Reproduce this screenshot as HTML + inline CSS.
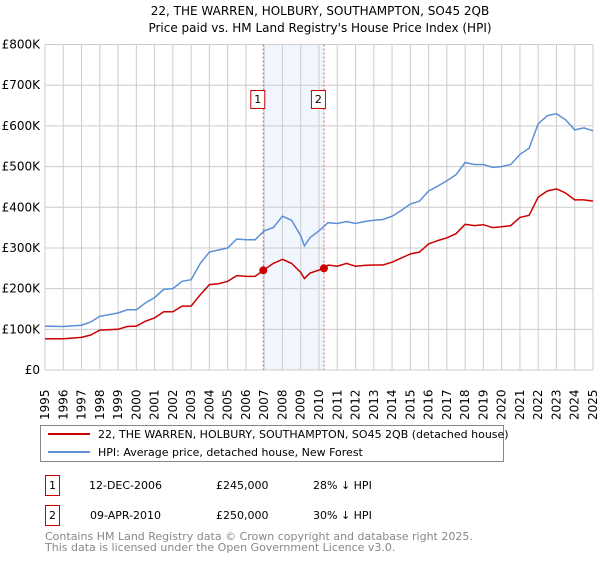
<!DOCTYPE html>
<html><head><meta charset="utf-8"><style>
body{margin:0;background:#fff;font-family:"DejaVu Sans","Liberation Sans",sans-serif;}
svg text{font-family:"DejaVu Sans","Liberation Sans",sans-serif;}
</style></head><body>
<svg id="chart" width="600" height="560" xmlns="http://www.w3.org/2000/svg">
<text x="320" y="15" text-anchor="middle" font-size="12">22, THE WARREN, HOLBURY, SOUTHAMPTON, SO45 2QB</text>
<text x="320" y="32" text-anchor="middle" font-size="12">Price paid vs. HM Land Registry's House Price Index (HPI)</text>
<g id="grid"></g><g id="marks"></g><g id="axes"></g>
<g>
<rect x="40.5" y="425.5" width="463" height="36" fill="#fff" stroke="#888"/>
<line x1="48" y1="434" x2="90" y2="434" stroke="#cc0000" stroke-width="2"/>
<text x="98" y="438" font-size="11">22, THE WARREN, HOLBURY, SOUTHAMPTON, SO45 2QB (detached house)</text>
<line x1="48" y1="452" x2="90" y2="452" stroke="#5b8fd6" stroke-width="2"/>
<text x="98" y="456" font-size="11">HPI: Average price, detached house, New Forest</text>
</g>
<g font-size="11">
<rect x="45.5" y="475.5" width="14" height="20" fill="#fff" stroke="#cc0000"/><text x="52.5" y="489" text-anchor="middle">1</text>
<text x="89" y="489">12-DEC-2006</text><text x="216" y="489">£245,000</text><text x="313" y="489">28% ↓ HPI</text>
<rect x="45.5" y="505.5" width="14" height="20" fill="#fff" stroke="#cc0000"/><text x="52.5" y="519" text-anchor="middle">2</text>
<text x="90" y="519">09-APR-2010</text><text x="216" y="519">£250,000</text><text x="313" y="519">30% ↓ HPI</text>
</g>
<text x="45" y="540" font-size="11" fill="#888">Contains HM Land Registry data © Crown copyright and database right 2025.</text>
<text x="45" y="551" font-size="11" fill="#888">This data is licensed under the Open Government Licence v3.0.</text>
</svg>
<script>
const hpiYears=[1995,1996,1997,1997.5,1998,1999,1999.5,2000,2000.5,2001,2001.5,2002,2002.5,2003,2003.5,2004,2004.5,2005,2005.5,2006,2006.5,2007,2007.5,2008,2008.5,2009,2009.2,2009.5,2010,2010.5,2011,2011.5,2012,2012.5,2013,2013.5,2014,2014.5,2015,2015.5,2016,2016.5,2017,2017.5,2018,2018.5,2019,2019.5,2020,2020.5,2021,2021.5,2022,2022.5,2023,2023.5,2024,2024.5,2025];
const hpiValues=[108,107,110,118,132,140,148,148,165,178,198,200,218,222,262,290,295,300,322,320,320,342,350,378,368,330,305,325,342,362,360,365,360,365,368,370,378,392,408,415,440,452,465,480,510,505,505,498,500,505,530,545,605,625,630,615,590,595,588];
const propYears=[1995,1996,1997,1997.5,1998,1999,1999.5,2000,2000.5,2001,2001.5,2002,2002.5,2003,2003.5,2004,2004.5,2005,2005.5,2006,2006.5,2006.95,2007.5,2008,2008.5,2009,2009.2,2009.5,2010.27,2010.5,2011,2011.5,2012,2012.5,2013,2013.5,2014,2014.5,2015,2015.5,2016,2016.5,2017,2017.5,2018,2018.5,2019,2019.5,2020,2020.5,2021,2021.5,2022,2022.5,2023,2023.5,2024,2024.5,2025];
const propValues=[77,77,80,86,98,100,107,108,120,128,143,143,157,157,185,210,212,218,232,230,230,245,262,272,262,240,225,238,250,258,255,262,255,257,258,258,265,275,285,290,310,318,325,335,358,355,357,350,352,355,375,380,425,440,445,435,418,418,415];
const saleYears=[2006.95,2010.27];
const saleValues=[245,250];
const saleLabels=["1","2"];
const yTicks=[0,100,200,300,400,500,600,700,800];
const yTickLabels=["£0","£100K","£200K","£300K","£400K","£500K","£600K","£700K","£800K"];
const xTicks=[1995,1996,1997,1998,1999,2000,2001,2002,2003,2004,2005,2006,2007,2008,2009,2010,2011,2012,2013,2014,2015,2016,2017,2018,2019,2020,2021,2022,2023,2024,2025];

const NS="http://www.w3.org/2000/svg";
const X0=45,X1=593,Y0=370,Y1=44.5;
const xs=y=>X0+(y-1995)/30*(X1-X0);
const ys=v=>Y0-v/800*(Y0-Y1);
function mk(tag,attrs,parent){const e=document.createElementNS(NS,tag);for(const k in attrs)e.setAttribute(k,attrs[k]);parent.appendChild(e);return e;}
const grid=document.getElementById('grid'),marks=document.getElementById('marks'),axes=document.getElementById('axes');
let sh=mk('rect',{x:xs(saleYears[0]),y:Y1,width:xs(saleYears[1])-xs(saleYears[0]),height:Y0-Y1,fill:'#eef3fd',opacity:0.8},grid);


yTicks.forEach((t,i)=>{
 let l=mk('line',{x1:X0,x2:X1,y1:ys(t),y2:ys(t),stroke:'#cccccc'},grid);
 
 
 let tx=mk('text',{x:40,y:ys(t)+4,'text-anchor':'end','font-size':12},axes);
 tx.textContent=yTickLabels[i];
 
 
});
xTicks.forEach(t=>{
 let l=mk('line',{x1:xs(t),x2:xs(t),y1:Y1,y2:Y0,stroke:'#cccccc'},grid);
 
 
 let tx=mk('text',{x:0,y:0,'font-size':12,transform:`translate(${xs(t)+4},${Y0+50}) rotate(-90)`},axes);
 tx.textContent=t;
 
 
});
saleYears.forEach((y,i)=>{
 let l=mk('line',{x1:xs(y),x2:xs(y),y1:Y1,y2:Y0,stroke:'#e06060','stroke-dasharray':'2,2'},grid);
 
 
});
const pts=(xa,va)=>xa.map((x,i)=>xs(x).toFixed(1)+','+ys(va[i]).toFixed(1)).join(' ');
let hp=mk('polyline',{points:pts(hpiYears,hpiValues),fill:'none',stroke:'#5b8fd6','stroke-width':1.5},marks);


let pp=mk('polyline',{points:pts(propYears,propValues),fill:'none',stroke:'#cc0000','stroke-width':1.5},marks);


saleYears.forEach((y,i)=>{
 let c=mk('circle',{cx:xs(y),cy:ys(saleValues[i]),r:4,fill:'#cc0000'},marks);
 
 
 let r=mk('rect',{x:xs(y)-12.5,y:90.5,width:14,height:18,fill:'#fff',stroke:'#cc0000'},marks);
 
 
 let t=mk('text',{x:xs(y)-5.5,y:103,'text-anchor':'middle','font-size':11},marks);
 t.textContent=saleLabels[i];
 
 
});
</script>
</body></html>
